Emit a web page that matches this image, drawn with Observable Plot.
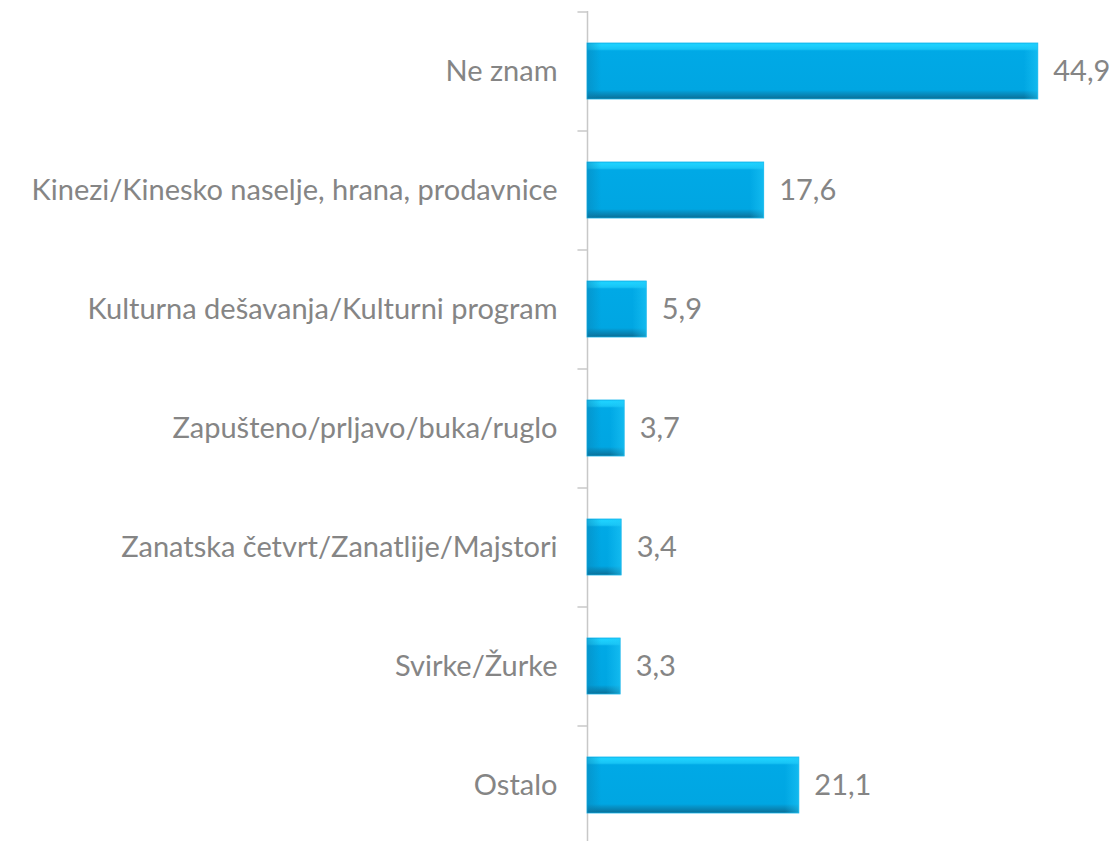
<!DOCTYPE html>
<html>
<head>
<meta charset="utf-8">
<script src="https://cdn.jsdelivr.net/npm/d3@7"></script>
<script src="https://cdn.jsdelivr.net/npm/@observablehq/plot@0.6"></script>
<style>
html,body{margin:0;padding:0;background:#fff;}
#chart svg{display:block;}
</style>
</head>
<body>
<div id="chart"></div>
<script>
const categories = [
  "Ne znam",
  "Kinezi/Kinesko naselje, hrana, prodavnice",
  "Kulturna dešavanja/Kulturni program",
  "Zapušteno/prljavo/buka/ruglo",
  "Zanatska četvrt/Zanatlije/Majstori",
  "Svirke/Žurke",
  "Ostalo"
];
const values = [44.9, 17.6, 5.9, 3.7, 3.4, 3.3, 21.1];
const valueLabels = ["44,9", "17,6", "5,9", "3,7", "3,4", "3,3", "21,1"];

const data = categories.map((c, i) => ({cat: c, v: values[i], label: valueLabels[i]}));

const plot = Plot.plot({
  width: 1113,
  height: 841,
  marginLeft: 587,
  marginRight: 24,
  marginTop: 11,
  marginBottom: -3,
  style: {fontFamily: "Lato, 'Open Sans', sans-serif", fontSize: "29px", color: "#858585", background: "#fff"},
  x: {domain: [0, 50], axis: null},
  y: {domain: categories, paddingInner: 0.53, paddingOuter: 0.265, label: null},
  marks: [
    Plot.axisY({tickSize: 0, tickPadding: 30, fontSize: 29, fill: "#858585", label: null}),
    Plot.ruleX([0], {stroke: "#c8c8c8", strokeWidth: 1.5}),
    Plot.ruleY(categories, {y: d => d, x1: -0.95, x2: 0, dy: -59.5, stroke: "#c8c8c8", strokeWidth: 1.5}),
    Plot.barX(data, {y: "cat", x: "v", fill: "url(#bevel)", stroke: "#16b4ea", strokeWidth: 0.8}),
    Plot.rect(data, {y: "cat", x1: 0, x2: 0, insetRight: -14, fill: "url(#leftEnd)"}),
    Plot.rect(data, {y: "cat", x1: "v", x2: "v", insetLeft: -14, fill: "url(#rightEnd)"}),
    Plot.text(data, {y: "cat", x: "v", text: "label", dx: 15, textAnchor: "start", fill: "#858585", fontSize: 29})
  ]
});

const svg = d3.select(plot);
const defs = svg.insert("defs", ":first-child");
const g = defs.append("linearGradient").attr("id", "bevel").attr("x1", 0).attr("y1", 0).attr("x2", 0).attr("y2", 1);
[["0%", "#12c4f5"], ["3%", "#1ed2ff"], ["11%", "#17c4f5"], ["14%", "#00a9e6"], ["84%", "#00a6e2"], ["88%", "#0596cc"], ["95%", "#087fad"], ["100%", "#0a6c92"]]
  .forEach(([o, c]) => g.append("stop").attr("offset", o).attr("stop-color", c));
const gl = defs.append("linearGradient").attr("id", "leftEnd").attr("x1", 0).attr("y1", 0).attr("x2", 1).attr("y2", 0);
[["0%", "#0a7fb0", 0.45], ["100%", "#0a7fb0", 0]].forEach(([o, c, a]) => gl.append("stop").attr("offset", o).attr("stop-color", c).attr("stop-opacity", a));
const gr = defs.append("linearGradient").attr("id", "rightEnd").attr("x1", 0).attr("y1", 0).attr("x2", 1).attr("y2", 0);
[["0%", "#20c8f8", 0], ["100%", "#20c8f8", 0.55]].forEach(([o, c, a]) => gr.append("stop").attr("offset", o).attr("stop-color", c).attr("stop-opacity", a));

document.getElementById("chart").appendChild(plot);
</script>
</body>
</html>
